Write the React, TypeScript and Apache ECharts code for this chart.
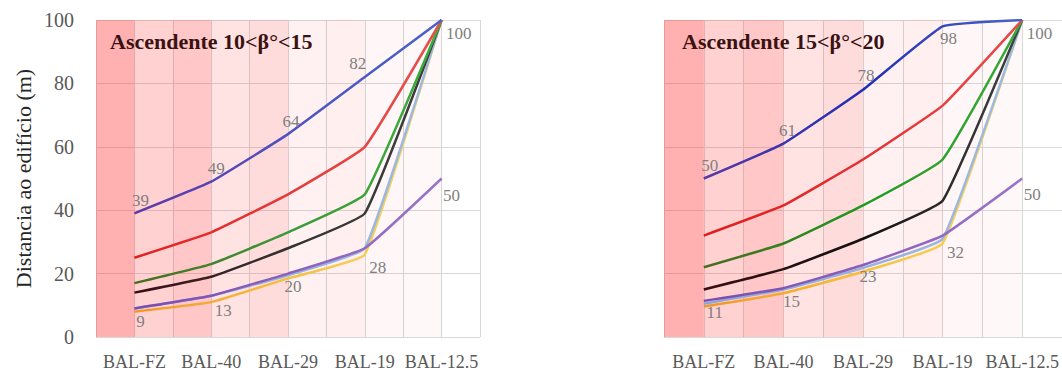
import { useEffect, useRef } from 'react';
import * as echarts from 'echarts';

const categories = ['BAL-FZ', 'BAL-40', 'BAL-29', 'BAL-19', 'BAL-12.5'];
const leftTitle = 'Ascendente 10<β°<15';
const rightTitle = 'Ascendente 15<β°<20';
const yAxisTitle = 'Distancia ao edifício (m)';

const leftBlue = [39, 49, 64, 82, 100];
const leftRed = [25, 33, 45, 60, 100];
const leftGreen = [17, 23, 33, 45, 100];
const leftBlack = [14, 19, 28, 39, 100];
const leftPurple = [9, 13, 20, 28, 50];
const leftLightBlue = [9, 13, 19.5, 28, 100];
const leftOrange = [8, 11, 18.5, 26, 100];

const rightBlue = [50, 61, 78, 98, 100];
const rightRed = [32, 41.5, 56, 73, 100];
const rightGreen = [22, 29.5, 41.5, 56, 100];
const rightBlack = [15, 21.4, 31, 43, 100];
const rightPurple = [11.4, 15.4, 22.7, 32, 50];
const rightLightBlue = [10.5, 15, 21.8, 31, 100];
const rightOrange = [9.6, 13.8, 20.6, 29.5, 100];

const bandSlots = ['z1', 'z2', 'z3', 'z4', 'z5', 'z6', 'z7', 'z8', 'z9', 'z10'];
const bandValues = [100, 100, 100, 100, 100, 100, 100, 100, 100, 100];
const bandAlpha = [0.36, 0.21, 0.26, 0.13, 0.16, 0.065, 0.075, 0.04, 0.03, 0];

const FONT = '"Liberation Serif", "Times New Roman", serif';

type LabelPlace = { pos: string; off: number[] };
const leftBlueLabels: LabelPlace[] = [
  { pos: 'top', off: [6, 0] },
  { pos: 'top', off: [5, 0] },
  { pos: 'top', off: [3, 0] },
  { pos: 'top', off: [-7, -1] },
  { pos: 'right', off: [0, 13] },
];
const leftPurpleLabels: LabelPlace[] = [
  { pos: 'bottom', off: [6, 0] },
  { pos: 'bottom', off: [12, 2] },
  { pos: 'bottom', off: [5, 0] },
  { pos: 'bottom', off: [13, 6] },
  { pos: 'right', off: [-3, 17] },
];
const rightBlueLabels: LabelPlace[] = [
  { pos: 'top', off: [6, 0] },
  { pos: 'top', off: [4, 0] },
  { pos: 'top', off: [3, -1] },
  { pos: 'bottom', off: [6, -1] },
  { pos: 'right', off: [0, 13] },
];
const rightPurpleLabels: LabelPlace[] = [
  { pos: 'bottom', off: [11, -1] },
  { pos: 'bottom', off: [8, 0] },
  { pos: 'bottom', off: [5, -2] },
  { pos: 'bottom', off: [13, 4] },
  { pos: 'right', off: [-3, 16] },
];

const grad = (stops: string[]) =>
  new echarts.graphic.LinearGradient(
    0,
    0,
    1,
    0,
    stops.map((c, i) => ({ offset: i / (stops.length - 1), color: c }))
  );

function lineSeries(
  name: string,
  values: number[],
  xAxisIndex: number,
  yAxisIndex: number,
  stops: string[],
  labels?: LabelPlace[]
) {
  return {
    name,
    type: 'line',
    xAxisIndex,
    yAxisIndex,
    smooth: 0.1,
    showSymbol: true,
    symbol: 'circle',
    symbolSize: 1,
    itemStyle: { color: 'rgba(0,0,0,0)', borderWidth: 0 },
    z: 3,
    lineStyle: { width: 2.5, color: grad(stops) },
    data: values.map((v, i) =>
      labels
        ? {
            value: v,
            label: {
              show: true,
              position: labels[i].pos,
              offset: labels[i].off,
              distance: 4,
              formatter: (p: any) => String(Math.round(p.value)),
              color: '#7f7f7f',
              fontSize: 17,
              fontFamily: FONT,
            },
          }
        : v
    ),
  };
}

function bandSeries(xAxisIndex: number, yAxisIndex: number) {
  return {
    type: 'bar',
    xAxisIndex,
    yAxisIndex,
    barWidth: '100%',
    barCategoryGap: '0%',
    silent: true,
    z: 1,
    data: bandValues.map((v, i) => ({
      value: v,
      itemStyle: { color: `rgba(255, 40, 40, ${bandAlpha[i]})` },
    })),
  };
}

function panelSeries(
  xLine: number,
  xBand: number,
  yIdx: number,
  d: {
    blue: number[];
    red: number[];
    green: number[];
    black: number[];
    purple: number[];
    lightBlue: number[];
    orange: number[];
  },
  blueStops: string[],
  redStops: string[],
  greenStops: string[],
  blackStops: string[],
  blueLabels: LabelPlace[],
  purpleLabels: LabelPlace[]
) {
  return [
    bandSeries(xBand, yIdx),
    lineSeries('orange', d.orange, xLine, yIdx, ['#f2962a', '#f5c040', '#f6dc6a']),
    lineSeries('lightblue', d.lightBlue, xLine, yIdx, ['#8ea6d6', '#94b2dc', '#9dbbe2']),
    lineSeries('purple', d.purple, xLine, yIdx, ['#7a4cb0', '#8a60bc', '#9b74c8'], purpleLabels),
    lineSeries('black', d.black, xLine, yIdx, blackStops),
    lineSeries('green', d.green, xLine, yIdx, greenStops),
    lineSeries('red', d.red, xLine, yIdx, redStops),
    lineSeries('blue', d.blue, xLine, yIdx, blueStops, blueLabels),
  ];
}

export default function App() {
  const ref = useRef<HTMLDivElement>(null);

  useEffect(() => {
    if (!ref.current) return;
    const chart = echarts.init(ref.current, undefined, { renderer: 'svg' });

    const catAxis = (gridIndex: number) => ({
      type: 'category',
      gridIndex,
      data: categories,
      boundaryGap: true,
      position: 'bottom',
      axisLine: { show: false },
      axisTick: { show: false },
      splitLine: { show: false },
      axisLabel: {
        color: '#595959',
        fontSize: 18,
        fontFamily: FONT,
        margin: 16,
        interval: 0,
      },
    });
    const bandAxis = (gridIndex: number) => ({
      type: 'category',
      gridIndex,
      data: bandSlots,
      boundaryGap: true,
      position: 'top',
      axisLine: { show: false },
      axisTick: { show: false },
      axisLabel: { show: false },
      splitLine: { show: true, interval: 0, lineStyle: { color: '#d9d9d9', width: 1 } },
    });
    const valAxis = (gridIndex: number, showLabels: boolean) => ({
      type: 'value',
      gridIndex,
      min: 0,
      max: 100,
      interval: 20,
      axisLine: { show: false },
      axisTick: { show: false },
      splitLine: { show: true, lineStyle: { color: '#d9d9d9', width: 1 } },
      axisLabel: {
        show: showLabels,
        color: '#595959',
        fontSize: 20,
        fontFamily: FONT,
        margin: 22,
      },
      ...(showLabels
        ? {
            name: yAxisTitle,
            nameLocation: 'middle',
            nameGap: 62,
            nameTextStyle: { color: '#262626', fontSize: 22, fontFamily: FONT },
          }
        : {}),
    });

    chart.setOption({
      animation: false,
      backgroundColor: '#ffffff',
      textStyle: { fontFamily: FONT },
      title: [
        {
          text: leftTitle,
          left: 105,
          top: 25,
          textStyle: { color: '#3a1212', fontSize: 22, fontWeight: 'bold', fontFamily: FONT },
        },
        {
          text: rightTitle,
          left: 677,
          top: 25,
          textStyle: { color: '#3a1212', fontSize: 22, fontWeight: 'bold', fontFamily: FONT },
        },
      ],
      grid: [
        { left: 96, top: 20, width: 384, height: 319 },
        { left: 664, top: 20, width: 399, height: 319 },
      ],
      xAxis: [catAxis(0), bandAxis(0), catAxis(1), bandAxis(1)],
      yAxis: [valAxis(0, true), valAxis(1, false)],
      series: [
        ...panelSeries(
          0,
          1,
          0,
          {
            blue: leftBlue,
            red: leftRed,
            green: leftGreen,
            black: leftBlack,
            purple: leftPurple,
            lightBlue: leftLightBlue,
            orange: leftOrange,
          },
          ['#5b3aa6', '#4f52bf', '#4662cc'],
          ['#e31f1f', '#e53a3a', '#e85050'],
          ['#4d6b1f', '#3a9a3a', '#3cae3c'],
          ['#3b0f14', '#333333', '#404040'],
          leftBlueLabels,
          leftPurpleLabels
        ),
        ...panelSeries(
          2,
          3,
          1,
          {
            blue: rightBlue,
            red: rightRed,
            green: rightGreen,
            black: rightBlack,
            purple: rightPurple,
            lightBlue: rightLightBlue,
            orange: rightOrange,
          },
          ['#5a3aa6', '#1f2fb5', '#4a62c8'],
          ['#e31a1a', '#e53030', '#e84a4a'],
          ['#4a6b20', '#1f9a1f', '#3aaa3a'],
          ['#3a0f12', '#111111', '#444444'],
          rightBlueLabels,
          rightPurpleLabels
        ),
      ],
    });

    return () => chart.dispose();
  }, []);

  return (
    <div
      ref={ref}
      style={{ position: 'absolute', left: 0, top: 0, width: 1062, height: 371 }}
    />
  );
}
